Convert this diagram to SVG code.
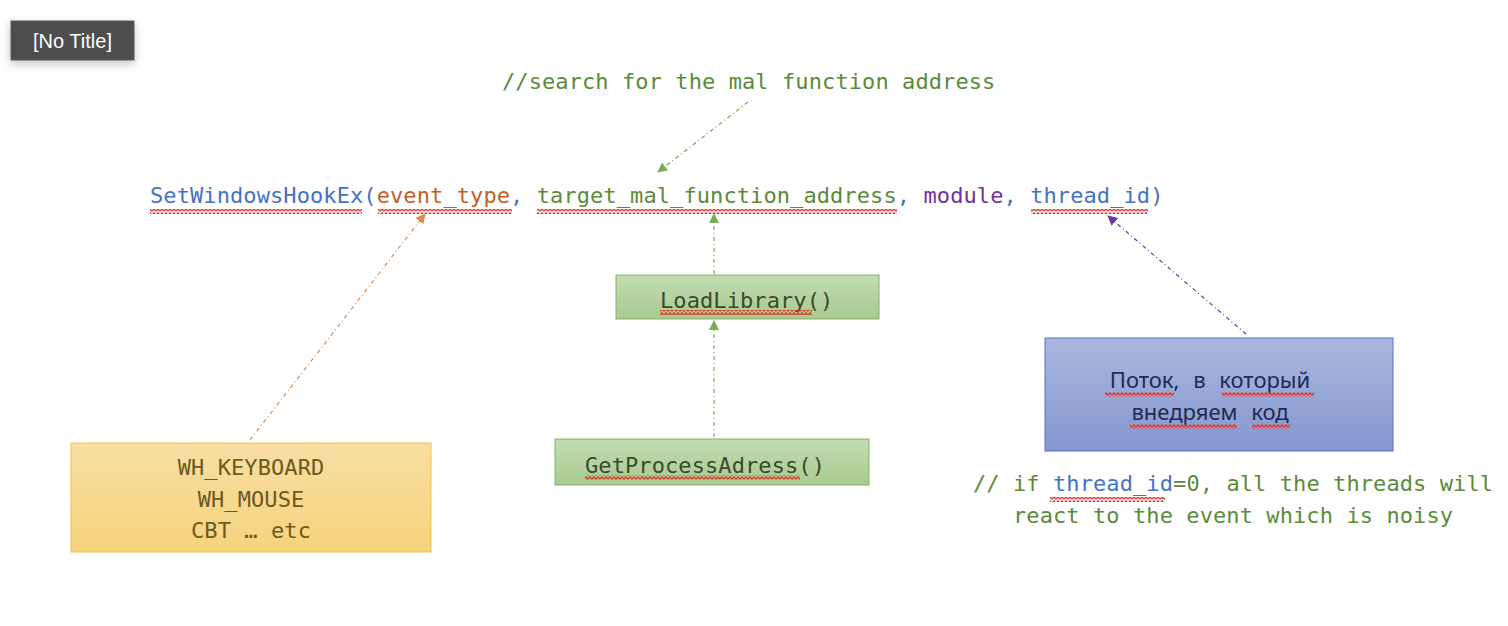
<svg xmlns="http://www.w3.org/2000/svg" width="1508" height="626" viewBox="0 0 1508 626">
<style>
.mono{font-family:"DejaVu Sans Mono","Liberation Mono",monospace;font-size:22px;letter-spacing:0.09px}
.sans{font-family:"Noto Sans","Open Sans","Liberation Sans",sans-serif}
.blue{fill:#4472c4}.orange{fill:#c0602a}.green{fill:#5b8a3a}.purple{fill:#7030a0}
.conn{fill:none;stroke-width:1.2;stroke-dasharray:4 3 1 3}
.sq{fill:url(#squig)}
</style>
<defs>
<pattern id="squig" patternUnits="userSpaceOnUse" width="4" height="4">
<polyline points="0,3.3 2,0.8 4,3.3" fill="none" stroke="#e0352a" stroke-width="1.3"/>
</pattern>
<linearGradient id="gGreen" x1="0" y1="0" x2="0" y2="1"><stop offset="0" stop-color="#c2dbb0"/><stop offset="1" stop-color="#a8cb90"/></linearGradient>
<linearGradient id="gYellow" x1="0" y1="0" x2="0" y2="1"><stop offset="0" stop-color="#f8dea4"/><stop offset="1" stop-color="#f6d37c"/></linearGradient>
<linearGradient id="gBlue" x1="0" y1="0" x2="0" y2="1"><stop offset="0" stop-color="#aab7de"/><stop offset="1" stop-color="#8497cf"/></linearGradient>
<filter id="shadow" x="-30%" y="-50%" width="160%" height="220%"><feDropShadow dx="0" dy="3" stdDeviation="4" flood-color="#000" flood-opacity="0.25"/></filter>
<marker id="mOrange" viewBox="0 0 10 10" refX="9" refY="5" markerWidth="10" markerHeight="10" markerUnits="userSpaceOnUse" orient="auto"><path d="M0,0 L10,5 L0,10 Z" fill="#e08a4a"/></marker>
<marker id="mGreen" viewBox="0 0 10 10" refX="9" refY="5" markerWidth="10" markerHeight="10" markerUnits="userSpaceOnUse" orient="auto"><path d="M0,0 L10,5 L0,10 Z" fill="#7aab55"/></marker>
<marker id="mPurple" viewBox="0 0 10 10" refX="9" refY="5" markerWidth="10" markerHeight="10" markerUnits="userSpaceOnUse" orient="auto"><path d="M0,0 L10,5 L0,10 Z" fill="#6a3aa8"/></marker>
</defs>
<rect width="1508" height="626" fill="#ffffff"/>

<g id="title">
<rect x="11" y="21" width="123" height="39" fill="#4d4d4f" stroke="#5a5a5c" filter="url(#shadow)"/>
<text x="72.5" y="48" text-anchor="middle" font-family="Liberation Sans, Arial, sans-serif" font-size="20" fill="#ffffff">[No Title]</text>
</g>

<g id="connectors">
<line x1="250" y1="440" x2="425" y2="214" class="conn" stroke="#e08a4a" marker-end="url(#mOrange)"/>
<line x1="748" y1="102" x2="658" y2="172" class="conn" stroke="#7aab55" marker-end="url(#mGreen)"/>
<line x1="714" y1="274" x2="714" y2="214" class="conn" stroke="#7aab55" marker-end="url(#mGreen)"/>
<line x1="714" y1="437" x2="714" y2="321" class="conn" stroke="#7aab55" marker-end="url(#mGreen)"/>
<line x1="1246" y1="334" x2="1108" y2="216" class="conn" stroke="#6a3aa8" stroke-dasharray="2 3" marker-end="url(#mPurple)"/>
</g>

<g id="comment-top">
<text x="502" y="89" class="mono green">//search for the mal function address</text>
</g>

<g id="call">
<text x="150" y="203" class="mono"><tspan class="blue">SetWindowsHookEx(</tspan><tspan class="orange">event_type</tspan><tspan class="blue">, </tspan><tspan class="green">target_mal_function_address</tspan><tspan class="blue">, </tspan><tspan class="purple">module</tspan><tspan class="blue">, thread_id)</tspan></text>
<rect x="150" y="209" width="212" height="5" class="sq"/>
<rect x="378" y="209" width="134" height="5" class="sq"/>
<rect x="537" y="209" width="360" height="5" class="sq"/>
<rect x="1031" y="209" width="117" height="5" class="sq"/>
</g>

<g id="loadlibrary">
<rect x="616" y="275" width="263" height="44" fill="url(#gGreen)" stroke="#82b366"/>
<text x="660" y="308" class="mono" fill="#3b4a2c">LoadLibrary()</text>
<rect x="660" y="310" width="152" height="5" class="sq"/>
</g>

<g id="getprocessadress">
<rect x="555" y="439" width="314" height="46" fill="url(#gGreen)" stroke="#82b366"/>
<text x="585" y="473" class="mono" fill="#3b4a2c">GetProcessAdress()</text>
<rect x="585" y="475" width="215" height="5" class="sq"/>
</g>

<g id="hooktypes">
<rect x="71" y="443" width="360" height="109" fill="url(#gYellow)" stroke="#f0c24a"/>
<text x="251" y="475" text-anchor="middle" class="mono" fill="#6b5a1e">WH_KEYBOARD</text>
<text x="251" y="507" text-anchor="middle" class="mono" fill="#6b5a1e">WH_MOUSE</text>
<text x="251" y="538" text-anchor="middle" class="mono" fill="#6b5a1e">CBT … etc</text>
</g>

<g id="thread">
<rect x="1045" y="338" width="348" height="113" fill="url(#gBlue)" stroke="#5670c0"/>
<text x="1210" y="388" text-anchor="middle" class="sans" font-size="22" word-spacing="8" fill="#1c2a55">Поток, в который</text>
<text x="1210" y="420" text-anchor="middle" class="sans" font-size="22" word-spacing="8" fill="#1c2a55">внедряем код</text>
<rect x="1105" y="392" width="69" height="5" class="sq"/>
<rect x="1222" y="392" width="92" height="5" class="sq"/>
<rect x="1130" y="424" width="107" height="5" class="sq"/>
<rect x="1252" y="424" width="38" height="5" class="sq"/>
</g>

<g id="comment-bottom">
<text x="973" y="491" class="mono green">// if <tspan class="blue">thread_id</tspan>=0, all the threads will</text>
<text x="1013" y="523" class="mono green">react to the event which is noisy</text>
<rect x="1050" y="497" width="115" height="5" class="sq"/>
</g>
</svg>
